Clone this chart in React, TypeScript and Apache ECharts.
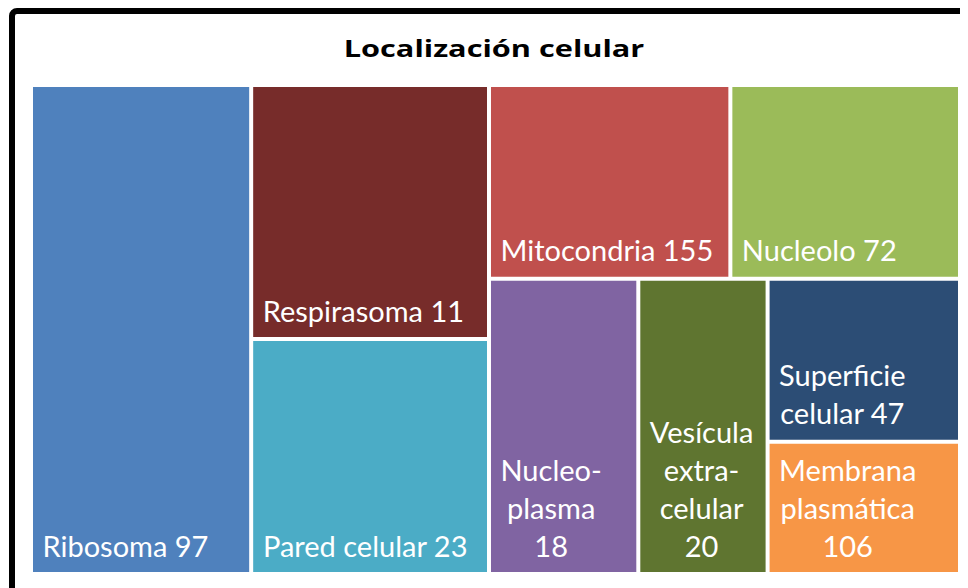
import React, { useEffect, useRef } from 'react';
import * as echarts from 'echarts';

// ---- data ----
const chartTitle = 'Localización celular';
const categories = [
  'Ribosoma',
  'Respirasoma',
  'Pared celular',
  'Mitocondria',
  'Nucleolo',
  'Nucleoplasma',
  'Vesícula extracelular',
  'Superficie celular',
  'Membrana plasmática',
];
// numbers printed in each tile
const counts = [97, 11, 23, 155, 72, 18, 20, 47, 106];
// relative tile size (estimated from the tile areas in the picture)
const areaWeights = [23.7, 13.3, 12.3, 10.3, 9.8, 9.7, 8.4, 6.9, 5.6];
// label text as wrapped in the picture
const labelNames = [
  'Ribosoma',
  'Respirasoma',
  'Pared celular',
  'Mitocondria',
  'Nucleolo',
  'Nucleo-\nplasma',
  'Vesícula\nextra-\ncelular',
  'Superficie\ncelular',
  'Membrana\nplasmática',
];
const countOnNewLine = [false, false, false, false, false, true, true, false, true];
const tileColors = ['#4F81BD', '#772C2A', '#4BACC6', '#C0504D', '#9BBB59', '#8064A2', '#5F7530', '#2C4D75', '#F79646'];
// grouping of tiles (indices into categories)
const layoutTree: any[] = [0, [1, 2], [3, 4], [5, 6, [7, 8]]];

const LABEL_FONT_FAMILY = 'Lato';
const LABEL_FONT_SIZE = 29;
const LABEL_LINE_HEIGHT = 38;

export default function App() {
  const ref = useRef<HTMLDivElement>(null);

  useEffect(() => {
    const el = ref.current;
    if (!el) return;
    const chart = echarts.init(el, null, { renderer: 'svg' });

    const ctx = document.createElement('canvas').getContext('2d')!;
    ctx.font = `${LABEL_FONT_SIZE}px ${LABEL_FONT_FAMILY}`;

    const leaf = (i: number) => {
      const text = labelNames[i] + (countOnNewLine[i] ? '\n' : ' ') + counts[i];
      const w = Math.max(...text.split('\n').map((l) => ctx.measureText(l).width));
      return {
        name: categories[i],
        value: areaWeights[i],
        count: counts[i],
        itemStyle: { color: tileColors[i], borderColor: '#ffffff', borderWidth: 2, gapWidth: 0 },
        label: {
          formatter: () => text,
          position: [9.5 + w / 2, '100%'],
          align: 'center',
          verticalAlign: 'bottom',
          offset: [0, -8],
        },
      };
    };
    let gid = 0;
    const build = (node: any): any =>
      Array.isArray(node)
        ? {
            name: 'grupo' + gid++,
            children: node.map(build),
            itemStyle: { borderWidth: 0, gapWidth: 0, borderColor: '#ffffff' },
          }
        : leaf(node);

    const data = layoutTree.map(build);

    chart.setOption({
      animation: false,
      backgroundColor: '#ffffff',
      tooltip: { show: false },
      graphic: [
        {
          type: 'rect',
          silent: true,
          shape: { x: 12, y: 11, width: 1200, height: 900, r: 5 },
          style: { fill: 'none', stroke: '#000000', lineWidth: 6 },
          z: 10,
        },
        {
          type: 'text',
          x: 494,
          y: 47.5,
          scaleX: 1.28,
          style: {
            text: chartTitle,
            fontFamily: 'Open Sans',
            fontWeight: 'bold',
            fontSize: 24,
            fill: '#000000',
            align: 'center',
            verticalAlign: 'middle',
          },
        },
      ],
      series: [
        {
          type: 'treemap',
          left: 31,
          top: 85,
          width: 929,
          height: 489,
          roam: false,
          nodeClick: false,
          sort: false,
          squareRatio: 0.05,
          visibleMin: 0,
          breadcrumb: { show: false },
          upperLabel: { show: false },
          levels: [{ itemStyle: { borderWidth: 0, gapWidth: 0, borderColor: '#ffffff' } }],
          itemStyle: { borderWidth: 0, gapWidth: 0, borderColor: '#ffffff' },
          label: {
            show: true,
            color: '#ffffff',
            fontFamily: LABEL_FONT_FAMILY,
            fontSize: LABEL_FONT_SIZE,
            lineHeight: LABEL_LINE_HEIGHT,
            padding: 0,
            distance: 0,
            overflow: 'none',
          },
          emphasis: { disabled: true },
          data,
        },
      ],
    });

    return () => chart.dispose();
  }, []);

  return (
    <div
      ref={ref}
      style={{ width: 968, height: 588, margin: '-8px 0 0 -8px', background: '#fff' }}
    />
  );
}
